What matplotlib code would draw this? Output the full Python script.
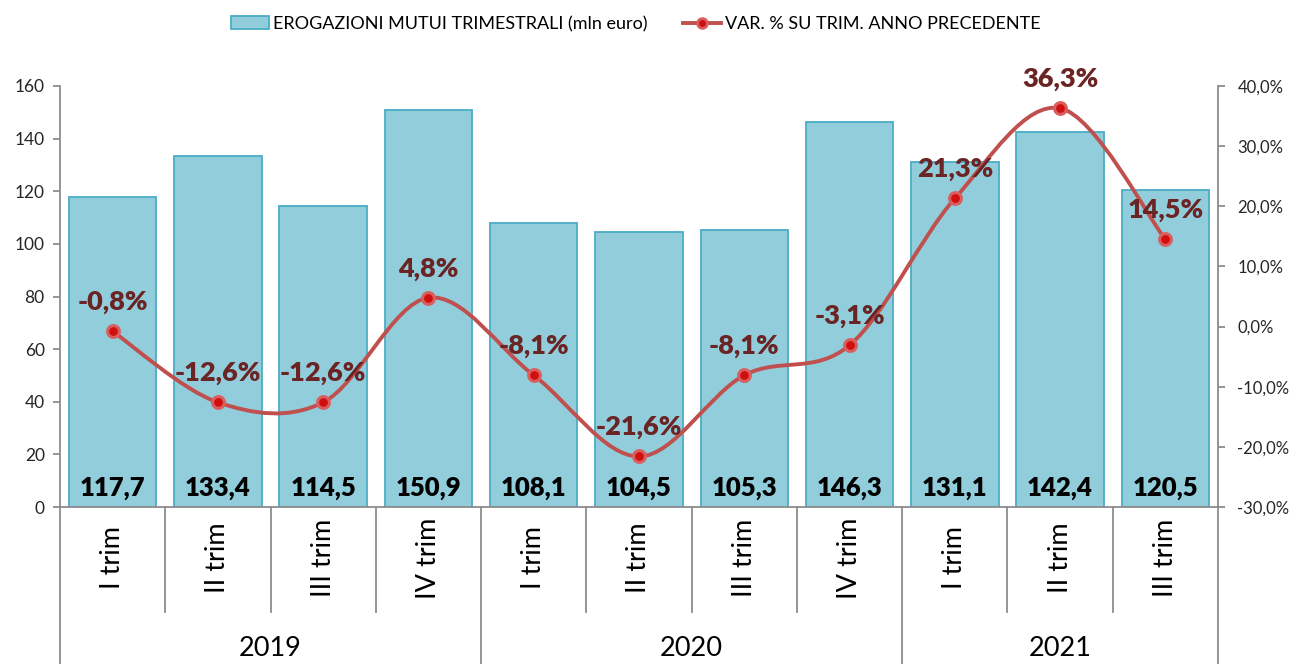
import matplotlib.pyplot as plt
from matplotlib.path import Path
from matplotlib.patches import PathPatch
from matplotlib.lines import Line2D
from matplotlib.patches import Patch
import matplotlib.transforms as mtransforms

# Data
quarters = ["I trim", "II trim", "III trim", "IV trim",
            "I trim", "II trim", "III trim", "IV trim",
            "I trim", "II trim", "III trim"]
years = ["2019", "2020", "2021"]
year_sizes = [4, 4, 3]
erogazioni = [117.7, 133.4, 114.5, 150.9, 108.1, 104.5, 105.3, 146.3, 131.1, 142.4, 120.5]
var_pct = [-0.8, -12.6, -12.6, 4.8, -8.1, -21.6, -8.1, -3.1, 21.3, 36.3, 14.5]

BAR_FILL = '#92CDDC'
BAR_EDGE = '#4BACC6'
LINE_COL = '#C0504D'
LABEL_COL = '#6B2424'
AXIS_COL = '#8C8C8C'
FONT = 'Lato'

plt.rcParams['font.family'] = [FONT, 'DejaVu Sans']


def fmt_it(v, dec=1):
    return f"{v:.{dec}f}".replace('.', ',')


def smooth_path(xs, ys):
    # Excel-like smoothed line: cubic bezier through every point
    n = len(xs)
    verts = [(xs[0], ys[0])]
    codes = [Path.MOVETO]
    for i in range(n - 1):
        x0, y0 = (xs[i - 1], ys[i - 1]) if i > 0 else (xs[i], ys[i])
        x1, y1 = xs[i], ys[i]
        x2, y2 = xs[i + 1], ys[i + 1]
        x3, y3 = (xs[i + 2], ys[i + 2]) if i + 2 < n else (x2, y2)
        c1 = (x1 + (x2 - x0) / 6, y1 + (y2 - y0) / 6)
        c2 = (x2 - (x3 - x1) / 6, y2 - (y3 - y1) / 6)
        verts += [c1, c2, (x2, y2)]
        codes += [Path.CURVE4] * 3
    return Path(verts, codes)


fig = plt.figure(figsize=(12.9, 6.64), dpi=100)
ax = fig.add_axes([60 / 1290, 1 - 507 / 664, (1218 - 60) / 1290, (507 - 86) / 664])
ax2 = ax.twinx()

x = list(range(len(erogazioni)))
ax.bar(x, erogazioni, width=0.83, color=BAR_FILL, edgecolor=BAR_EDGE, linewidth=1.3, zorder=2)
for xi, v in zip(x, erogazioni):
    ax.annotate(fmt_it(v), (xi, 0), xytext=(0, 14), textcoords='offset points',
                ha='center', va='center', fontsize=18.5, fontweight='heavy', color='black')

ax.set_xlim(-0.5, len(x) - 0.5)
ax.set_ylim(0, 160)
ax.set_yticks(range(0, 161, 20))
ax.set_xticks([])

ax2.set_ylim(-30, 40)
ax2.set_yticks(range(-30, 41, 10))
ax2.set_yticklabels([fmt_it(t) + '%' for t in range(-30, 41, 10)])

# line on secondary axis
ax2.add_patch(PathPatch(smooth_path(x, var_pct), facecolor='none', edgecolor=LINE_COL,
                        linewidth=2.8, zorder=3))
ax2.plot(x, var_pct, linestyle='none', marker='o', markersize=8.5, markerfacecolor='#D01010',
         markeredgecolor='#DA5E5E', markeredgewidth=2.2, zorder=4)
for xi, v in zip(x, var_pct):
    ax2.annotate(fmt_it(v) + '%', (xi, v), xytext=(0, 21), textcoords='offset points',
                 ha='center', va='center', fontsize=19.5, fontweight='heavy', color=LABEL_COL, zorder=5)

for a in (ax, ax2):
    a.spines['top'].set_visible(False)
    for s in ('left', 'right', 'bottom'):
        a.spines[s].set_color(AXIS_COL)
        a.spines[s].set_linewidth(1.3)
    a.tick_params(axis='y', length=5, width=1.3, color=AXIS_COL, labelsize=12.5,
                  labelcolor='#262626', pad=6)
ax2.tick_params(axis='y', pad=9, labelsize=12)
ax.spines['right'].set_visible(False)
ax2.spines['left'].set_visible(False)
ax2.spines['bottom'].set_visible(False)

# category axis: quarter labels, year labels and separators
trans = mtransforms.blended_transform_factory(ax.transData, ax.transAxes)
for xi, q in zip(x, quarters):
    ax.text(xi, -0.121, q, transform=trans, rotation=90, ha='center', va='center',
            fontsize=19.5, color='black')
start = 0
bounds = [-0.5]
for yr, size in zip(years, year_sizes):
    ax.text(start + (size - 1) / 2, -0.335, yr, transform=trans, ha='center', va='center',
            fontsize=19.5, color='black')
    for k in range(1, size):
        b = start + k - 0.5
        ax.plot([b, b], [0, -0.249], transform=trans, color=AXIS_COL, linewidth=1.3, clip_on=False)
    start += size
    bounds.append(start - 0.5)
for b in bounds:
    ax.plot([b, b], [0, -0.45], transform=trans, color=AXIS_COL, linewidth=1.3, clip_on=False)

# legend
handles = [Patch(facecolor=BAR_FILL, edgecolor=BAR_EDGE, linewidth=1.3),
           Line2D([], [], color=LINE_COL, linewidth=2.8, marker='o', markersize=7,
                  markerfacecolor='#D01010', markeredgecolor='#DA5E5E', markeredgewidth=2)]
fig.legend(handles, ['EROGAZIONI MUTUI TRIMESTRALI (mln euro)', 'VAR. % SU TRIM. ANNO PRECEDENTE'],
           loc='center', bbox_to_anchor=(0.493, 1 - 24 / 664), ncol=2, frameon=False,
           fontsize=13, handlelength=2.1, handletextpad=0.2, columnspacing=2.0)

fig.savefig('out.png', dpi=100, facecolor='white')
